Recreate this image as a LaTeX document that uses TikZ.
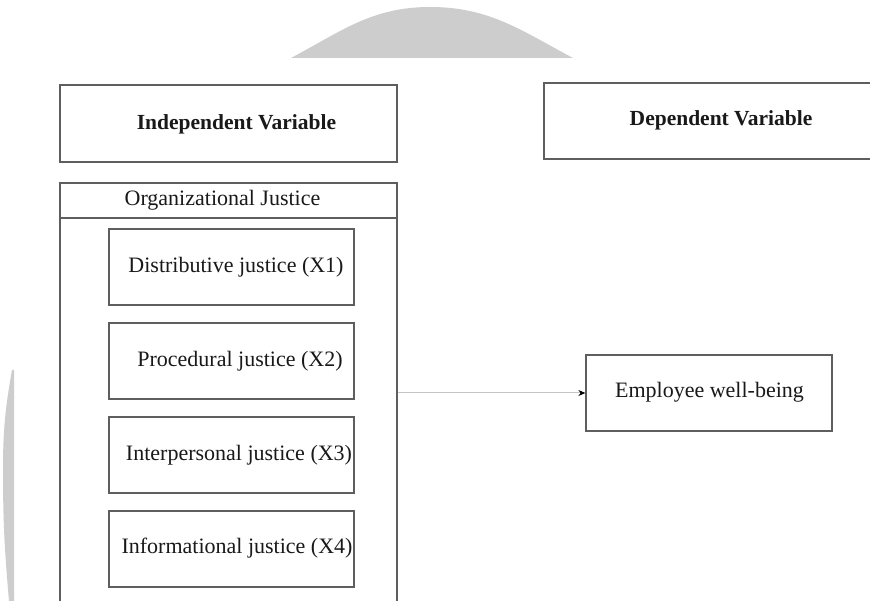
\documentclass[tikz,border=0pt]{standalone}
\usepackage{fontspec}
\setmainfont{Liberation Serif}
\usetikzlibrary{arrows.meta}
\definecolor{wm}{HTML}{CDCDCD}
\definecolor{edge}{HTML}{5E5E5E}
\definecolor{arrowline}{HTML}{C4C4C4}
\tikzset{
  box/.style={draw=edge, line width=1.3pt, rectangle, inner sep=0pt},
  txt/.style={inner sep=0pt, font=\fontsize{22}{24}\selectfont, text=black!90},
  btxt/.style={inner sep=0pt, font=\fontsize{21.5}{24}\selectfont\bfseries, text=black!90},
  conn/.style={draw=arrowline, line width=1pt, -{Stealth[length=7pt,width=6pt,black]}}
}
\begin{document}
\begin{tikzpicture}[x=1pt,y=-1pt]
\useasboundingbox (0,0) rectangle (870,601);
\clip (0,0) rectangle (870,601);
\fill[white] (0,0) rectangle (870,601);
% watermark shapes
\fill[wm] (291,58) to[out=28,in=180] (430,7) to[out=0,in=152] (573,58) -- cycle;
\fill[wm] (12,370) to[out=-100,in=90] (3,470) to[out=-90,in=95] (9,601) -- (14,601) -- (14,370) -- cycle;
% header boxes
\node[box, minimum width=337pt, minimum height=77pt] (iv) at (228.5,123.5) {};
\node[btxt] (ivt) at (236.5,124) {Independent Variable};
\node[box, minimum width=346pt, minimum height=76pt] (dv) at (717,121) {};
\node[btxt] (dvt) at (721,120) {Dependent Variable};
% organizational justice container
\node[box, minimum width=337pt, minimum height=457pt] (oj) at (228.5,411.5) {};
\draw[edge, line width=1.3pt] (60,218) -- (397,218);
\node[txt] (ojt) at (222.5,200.5) {Organizational Justice};
% dimensions
\node[box, minimum width=245pt, minimum height=76pt] (x1) at (231.5,267) {};
\node[txt] at (236,267) {Distributive justice (X1)};
\node[box, minimum width=245pt, minimum height=76pt] (x2) at (231.5,361) {};
\node[txt] at (240,361) {Procedural justice (X2)};
\node[box, minimum width=245pt, minimum height=76pt] (x3) at (231.5,455) {};
\node[txt] at (239,455) {Interpersonal justice (X3)};
\node[box, minimum width=245pt, minimum height=76pt] (x4) at (231.5,549) {};
\node[txt] at (237,548) {Informational justice (X4)};
% dependent
\node[box, minimum width=246pt, minimum height=76pt] (emp) at (709,393) {};
\node[txt] at (709.5,392) {Employee well-being};
% connector
\draw[conn] (oj.east |- emp.west) -- (emp.west);
\end{tikzpicture}
\end{document}
